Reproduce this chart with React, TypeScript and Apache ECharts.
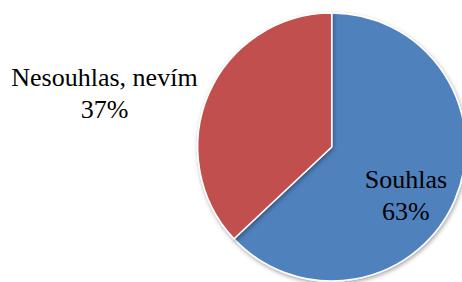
import React, { useEffect, useRef } from "react";
import * as echarts from "echarts";

const categories = ["Souhlas", "Nesouhlas, nevím"];
const values = [63, 37];
const colors = ["#4F81BD", "#C0504D"];

export default function App() {
  const ref = useRef<HTMLDivElement>(null);
  useEffect(() => {
    document.body.style.margin = "0";
    const chart = echarts.init(ref.current!, null, { renderer: "svg" });
    const labelOffsets = [
      [10, 21],
      [-163, -26],
    ];
    chart.setOption({
      animation: false,
      backgroundColor: "#ffffff",
      textStyle: { fontFamily: "'Liberation Serif', 'Times New Roman', serif" },
      series: [
        {
          type: "pie",
          center: [331.7, 147],
          radius: 134,
          startAngle: 90,
          clockwise: true,
          avoidLabelOverlap: false,
          itemStyle: {
            borderColor: "#ffffff",
            borderWidth: 1.5,
            shadowBlur: 4,
            shadowColor: "rgba(0,0,0,0.35)",
            shadowOffsetX: 1,
            shadowOffsetY: 2,
          },
          label: {
            show: true,
            position: "inside",
            formatter: "{b}\n{d}%",
            fontFamily: "'Liberation Serif', 'Times New Roman', serif",
            fontSize: 26,
            lineHeight: 32,
            color: "#000000",
            align: "center",
          },
          labelLine: { show: false },
          emphasis: { disabled: true },
          data: categories.map((c, i) => ({
            name: c,
            value: values[i],
            itemStyle: { color: colors[i] },
            label: { offset: labelOffsets[i] },
          })),
        },
      ],
    });
    return () => chart.dispose();
  }, []);
  return <div ref={ref} style={{ width: 462, height: 282 }} />;
}
